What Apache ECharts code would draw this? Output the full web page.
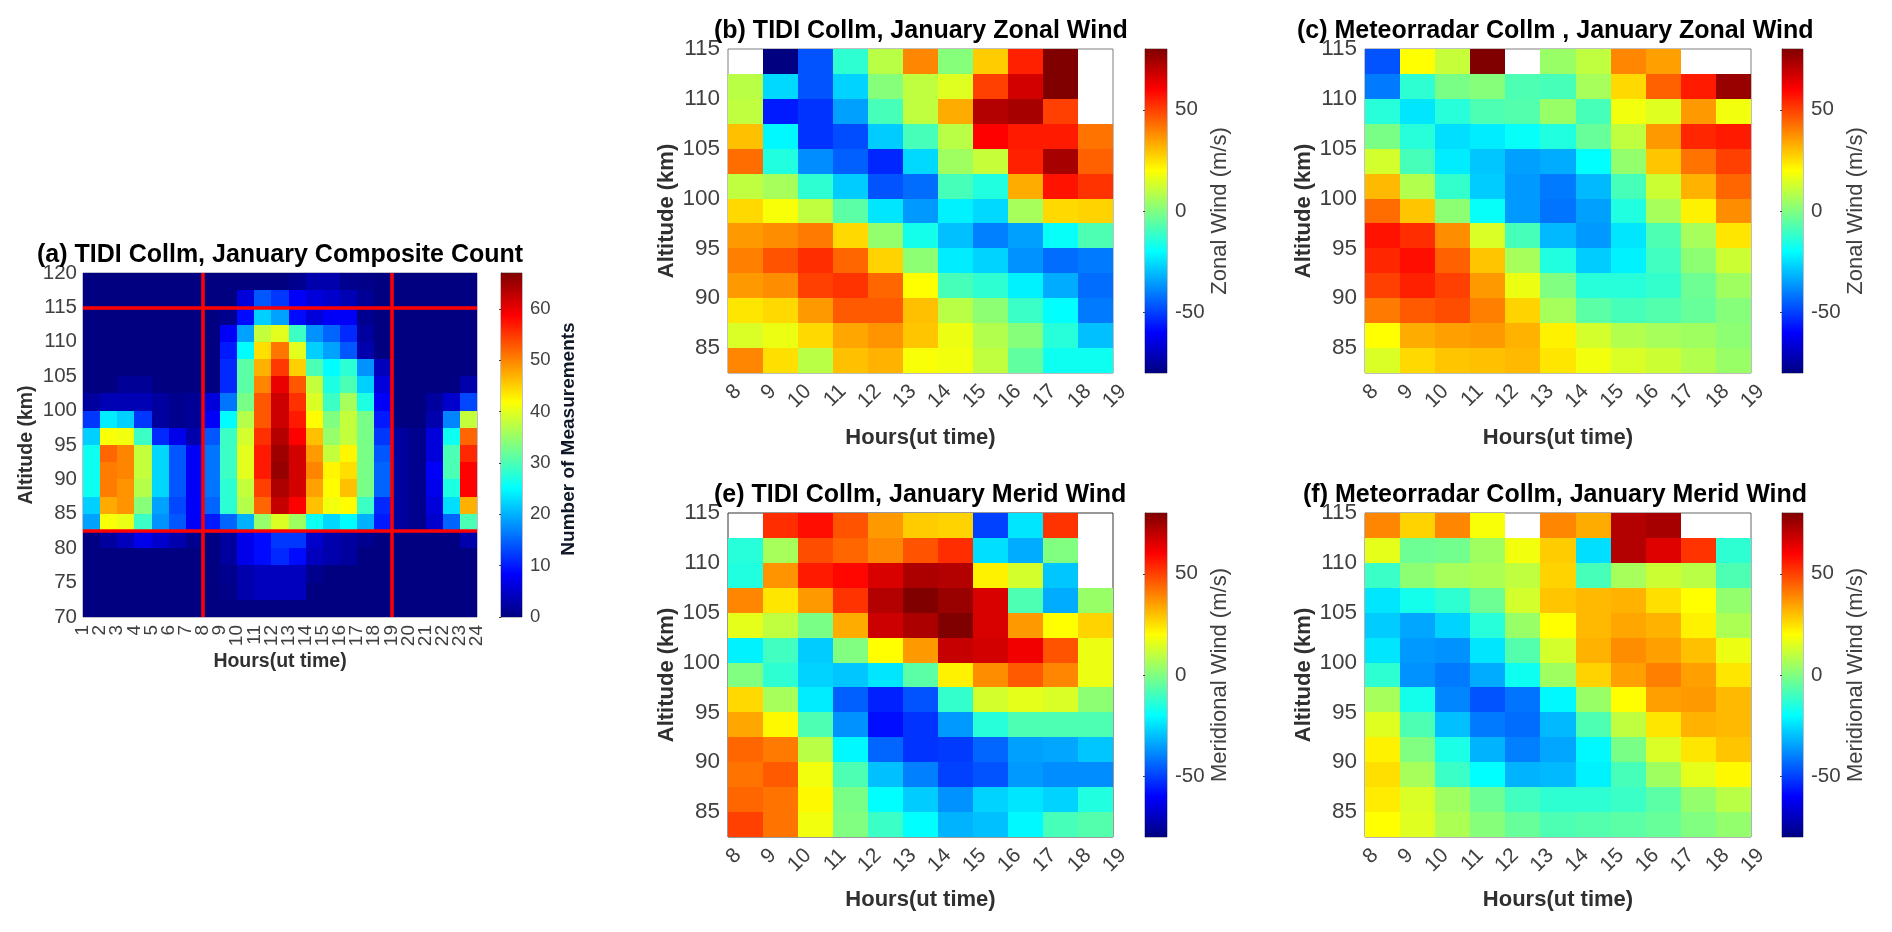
<!DOCTYPE html>
<html><head><meta charset="utf-8">
<style>html,body{margin:0;padding:0;background:#fff}#c{width:1892px;height:932px;filter:blur(0.45px)}</style>
<script src="https://cdn.jsdelivr.net/npm/echarts@6/dist/echarts.min.js"></script>
</head><body><div id="c"></div>
<script>
const countHours = [1,2,3,4,5,6,7,8,9,10,11,12,13,14,15,16,17,18,19,20,21,22,23,24];
const windHours = [8,9,10,11,12,13,14,15,16,17,18,19];
const countTicks = [70,75,80,85,90,95,100,105,110,115,120];
const windTicks = [85,90,95,100,105,110,115];
const windBarTicks = [-50,0,50];
const countBarTicks = [0,10,20,30,40,50,60];
const guideHours = [8,19];
const guideAltitudes = [115,82.5];
const jetColors = ['#000080','#0000ff','#0080ff','#00ffff','#80ff80','#ffff00','#ff8000','#ff0000','#800000'];

const countRows = [
[0,0,0,0,0,0,0,0,0,0,0,0,1,3,3,1,0.5,0,0,0,0,0,0],
[0,0,0,0,0,0,0,0,0,6,14,12,8,6,5,3.5,1.5,0,0,0,0,0,0],
[0,0,0,0,0,0,0,0,1,9,22,19,9,6,8,8,1,0,0,0,0,0,0],
[0,0,0,0,0,0,0,0,8,19,38,40,29,18,15,11,2,0,0,0,0,0,0],
[0,0,0,0,0,0,0,0,10,25,44,51,40,22,19,14,3,0,0,0,0,0,0],
[0,0,0,0,0,0,0,0,11,31,47,55,45,30,25,28,18,4,0,0,0,0,0],
[0,0,1.5,1.5,0,0,0,0,11,31,50,60,53,38,27,30,22,6,0,0,0,0,3],
[2,3.5,3.5,3.5,2,1,1.5,6,16,33,53,62,55.5,39.5,29,36,27,8,0,0,2,5,13],
[12,24,22,12,2,1,1.5,8,25,37,53,62,57,42,33.5,38,33,10,0,0,3,17,38],
[22,41.5,41,29,11,7,3,14,29,39,55.5,63.5,58.6,46,35,38,33,12,2,1,6,26,52],
[26,52,50,38,22.5,14,8,16,29,40,57,65,61.5,48.5,38,42.5,33,14,2,1,6,30,56],
[26,50.5,50,38,22.5,14,8,16,29,40,57,65.5,61.5,50,42.5,44,33,15,2,1,8,30,58.5],
[26,50.5,49,37,22.5,14,8,16,28,38,54.5,64,61.5,48,42,46,33,15,2,1,7,27,58.5],
[22,47.5,49,34,19,13,8,15,28,37,52,62.5,58.6,46,41,42,29,11,2,1,6,23,47],
[19,41.5,40.5,29,18,14,8,10,15,20,35,39.5,35.5,26,22.5,25,20,10,2,1,5,15,30],
[0,2,4,7,5,3,1,0,2,7,9,12,12,5,3,2,1,0,0,0,0,0,3],
[0,0,0,0,0,0,0,0,2,7,9,11,9,4,3,2,0,0,0,0,0,0,0],
[0,0,0,0,0,0,0,0,1,3,4,4,4,1,0,0,0,0,0,0,0,0,0],
[0,0,0,0,0,0,0,0,0.5,3,4,4,4,0,0,0,0,0,0,0,0,0,0],
[0,0,0,0,0,0,0,0,0,0,0,0,0,0,0,0,0,0,0,0,0,0,0]
];
const tidiZonal = [
[null,-80,-47,-13,9,39,1,28,55,80,null],
[9,-26,-47,-27,1,10,15,50,67,80,null],
[10,-56,-52,-35,-9,10,33,72,74,50,null],
[30,-21,-52,-48,-28,-9,9,60,56,56,42],
[43,-15,-38,-45,-54,-26,5,11,55,74,45],
[10,6,-13,-28,-47,-43,-9,-15,33,57,52],
[26,19,10,-6,-24,-36,-22,-26,6,26,27],
[36,38,41,26,3,-17,-30,-40,-35,-19,-8],
[40,47,53,44,27,2,-23,-27,-37,-43,-41],
[36,38,50,52,44,20,-9,-13,-22,-33,-43],
[24,26,36,46,46,30,9,2,-11,-20,-41],
[14,17,26,34,37,29,17,8,1,-14,-30],
[39,25,9,30,32,19,18,10,-5,-18,-18]
];
const radarZonal = [
[-47,20,11,80,null,4,10,39,35,null,null],
[-41,-13,-1,1,-8,-9,6,26,45,56,76],
[-14,-24,-14,-8,-7,4,-9,18,15,36,18],
[-1,-14,-25,-23,-19,-15,-4,10,36,54,56],
[13,-9,-23,-29,-35,-33,-20,3,29,42,50],
[31,8,-12,-28,-36,-41,-31,-9,12,32,44],
[43,29,2,-19,-36,-42,-35,-15,6,22,38],
[57,53,38,14,-9,-31,-36,-24,-8,6,24],
[54,58,45,29,6,-15,-28,-22,-10,2,12],
[50,55,50,36,17,0,-14,-14,-12,-3,5],
[41,46,48,40,27,6,-6,-9,-7,-4,1],
[20,33,35,36,32,22,13,8,6,5,2],
[14,26,29,30,31,24,18,14,12,8,4]
];
const tidiMerid = [
[null,53,58,47,36,28,27,-50,-24,52,null],
[-14,6,48,44,39,47,53,-25,-33,0,null],
[-15,37,56,59,66,73,72,22,13,-29,null],
[39,24,36,52,72,80,76,66,-8,-33,4],
[16,10,-1,33,68,73,80,66,36,20,27],
[-22,-10,-28,0,20,36,69,67,62,47,17],
[0,-13,-27,-29,-24,-6,22,38,46,39,17],
[26,6,-23,-45,-55,-47,-12,13,16,14,2],
[34,21,-8,-37,-58,-52,-36,-14,-8,-8,-8],
[44,41,9,-21,-44,-52,-51,-44,-35,-34,-29],
[42,46,18,-8,-30,-40,-50,-47,-36,-38,-38],
[44,42,21,-1,-20,-28,-37,-27,-24,-27,-15],
[50,42,18,0,-11,-20,-32,-30,-21,-9,-7]
];
const radarMerid = [
[39,27,39,19,null,39,33,72,74,null,null],
[16,-3,-2,5,18,28,-25,72,65,52,-13],
[-11,2,6,7,10,27,-9,6,12,9,-8],
[-24,-17,-13,-3,13,29,31,32,25,20,3],
[-28,-34,-27,-14,4,20,31,34,32,22,7],
[-24,-36,-37,-24,-7,13,32,38,35,30,17],
[-13,-37,-41,-33,-18,5,27,35,40,35,24],
[6,-17,-39,-47,-42,-21,4,20,35,36,31],
[15,-8,-30,-41,-43,-31,-8,10,24,32,31],
[22,0,-16,-32,-40,-34,-21,-1,14,24,29],
[25,6,-11,-20,-32,-31,-22,-9,5,16,21],
[23,14,5,-3,-10,-13,-13,-11,-6,3,9],
[20,15,7,1,-4,-8,-7,-6,-4,0,3]
];

const FONT = '"Liberation Sans", Arial, sans-serif';
const panels = [
 {title:'(a) TIDI Collm, January Composite Count', tx:37, ty:255, rows:countRows, hours:countHours, ticks:countTicks, ymin:70, ymax:120,
  box:[83,273,394,344], bar:[501,273,21,344], vmin:0, vmax:67, barTicks:countBarTicks, barName:'Number of Measurements', barBold:true, fs:19, nameGap:35, edge:'#7f7f9f'},
 {title:'(b) TIDI Collm, January Zonal Wind', tx:714, ty:31, rows:tidiZonal, hours:windHours, ticks:windTicks, ymin:82.5, ymax:115,
  box:[728,49,385,324], bar:[1145,49,22,324], vmin:-80, vmax:80, barTicks:windBarTicks, barName:'Zonal Wind (m/s)', fs:21, nameGap:54, edge:'#7f7f7f'},
 {title:'(c) Meteorradar Collm , January Zonal Wind', tx:1297, ty:31, rows:radarZonal, hours:windHours, ticks:windTicks, ymin:82.5, ymax:115,
  box:[1365,49,386,324], bar:[1782,49,21,324], vmin:-80, vmax:80, barTicks:windBarTicks, barName:'Zonal Wind (m/s)', fs:21, nameGap:54, edge:'#7f7f7f'},
 {title:'(e) TIDI Collm, January Merid Wind', tx:714, ty:495, rows:tidiMerid, hours:windHours, ticks:windTicks, ymin:82.5, ymax:115,
  box:[728,513,385,324], bar:[1145,513,22,324], vmin:-80, vmax:80, barTicks:windBarTicks, barName:'Meridional Wind (m/s)', fs:21, nameGap:52, edge:'#333333'},
 {title:'(f) Meteorradar Collm, January Merid Wind', tx:1303, ty:495, rows:radarMerid, hours:windHours, ticks:windTicks, ymin:82.5, ymax:115,
  box:[1365,513,386,324], bar:[1782,513,21,324], vmin:-80, vmax:80, barTicks:windBarTicks, barName:'Meridional Wind (m/s)', fs:21, nameGap:52, edge:'#666666'}
];

const title=[],grid=[],xAxis=[],yAxis=[],series=[],visualMap=[];
const TICK='#404040';
function cellRender(params,api){
  const x=api.value(0), y=api.value(1), w=api.value(3), h=api.value(4);
  const a=api.coord([x,y+h]), b=api.coord([x+w,y]);
  const l=Math.round(a[0]), t=Math.round(a[1]), r=Math.round(b[0]), btm=Math.round(b[1]);
  return {type:'rect',shape:{x:l,y:t,width:r-l,height:btm-t},style:{fill:api.visual('color')}};
}
panels.forEach((p,i)=>{
  const isA=p.barBold===true;
  title.push({text:p.title,left:p.tx,top:p.ty-13,padding:0,textStyle:{fontFamily:FONT,fontWeight:'bold',fontSize:25,color:'#000',lineHeight:26}});
  const gi=grid.length;
  grid.push({left:p.box[0],top:p.box[1],width:p.box[2],height:p.box[3],show:true,borderColor:p.edge,borderWidth:1,backgroundColor:'#fff',containLabel:false});
  xAxis.push({type:'value',gridIndex:gi,position:'bottom',min:p.hours[0],max:p.hours[p.hours.length-1],interval:1,
    name:'Hours(ut time)',nameLocation:'middle',nameGap:p.nameGap,
    nameTextStyle:{fontFamily:FONT,fontWeight:'bold',fontSize:isA?19.5:22,color:'#303030'},
    axisLine:{show:false},axisTick:{show:false},splitLine:{show:false},
    axisLabel:isA?{customValues:p.hours,rotate:90,fontFamily:FONT,fontSize:p.fs,color:TICK,margin:8,align:'right',verticalAlign:'middle',hideOverlap:false}
      :{customValues:p.hours,rotate:45,fontFamily:FONT,fontSize:p.fs,color:TICK,margin:25,align:'right',verticalAlign:'middle',padding:[0,-14,0,0],hideOverlap:false}});
  yAxis.push({type:'value',gridIndex:gi,min:p.ymin,max:p.ymax,
    name:'Altitude (km)',nameLocation:'middle',nameGap:isA?46:50,nameRotate:90,
    nameTextStyle:{fontFamily:FONT,fontWeight:'bold',fontSize:isA?19.5:22,color:'#303030'},
    axisLine:{show:false},axisTick:{show:false,customValues:p.ticks},splitLine:{show:false},
    axisLabel:{customValues:p.ticks,fontFamily:FONT,fontSize:isA?20.5:22.5,color:TICK,margin:isA?6:8,hideOverlap:false,padding:isA?0:[4,0,0,0]}});
  const data=[];
  const h=2.5;
  p.rows.forEach((row,r)=>row.forEach((v,c)=>{ if(v!==null) data.push([p.hours[c],p.ymax-h*(r+1),v,1,h]); }));
  const si=series.length;
  const s={type:'custom',xAxisIndex:gi,yAxisIndex:gi,coordinateSystem:'cartesian2d',renderItem:cellRender,data:data,encode:{x:0,y:1},silent:true,animation:false,clip:false};
  if(isA){
    s.markLine={silent:true,symbol:'none',animation:false,label:{show:false},lineStyle:{color:'#ff0000',width:3.5,type:'solid'},
      data:guideHours.map(x=>({xAxis:x})).concat(guideAltitudes.map(y=>({yAxis:y})))};
  }
  series.push(s);
  visualMap.push({show:false,type:'continuous',seriesIndex:si,dimension:2,min:p.vmin,max:p.vmax,inRange:{color:jetColors}});
  const bi=grid.length;
  grid.push({left:p.bar[0],top:p.bar[1],width:p.bar[2],height:p.bar[3],show:true,borderColor:'#808080',borderWidth:1,containLabel:false});
  xAxis.push({type:'value',gridIndex:bi,min:0,max:1,show:false});
  yAxis.push({type:'value',gridIndex:bi,position:'right',min:p.vmin,max:p.vmax,
    name:p.barName,nameLocation:'middle',nameRotate:90,nameGap:isA?56:53,
    nameTextStyle:{fontFamily:FONT,fontWeight:p.barBold?'bold':'normal',fontSize:isA?19:22,color:p.barBold?'#101828':TICK,align:'center',verticalAlign:'bottom',padding:isA?[0,0,0,12]:0},
    axisLine:{show:true,lineStyle:{color:'#404040',width:1}},
    axisTick:{show:true,inside:true,length:2,customValues:p.barTicks,lineStyle:{color:'#404040'}},splitLine:{show:false},
    axisLabel:{customValues:p.barTicks,fontFamily:FONT,fontSize:isA?18.5:20.5,color:TICK,margin:8,hideOverlap:false}});
  series.push({type:'custom',xAxisIndex:bi,yAxisIndex:bi,coordinateSystem:'cartesian2d',silent:true,animation:false,data:[[p.vmin,p.vmax]],
    renderItem:function(par,api){
      const a=api.coord([0,api.value(1)]), b=api.coord([1,api.value(0)]);
      return {type:'rect',shape:{x:a[0],y:a[1],width:b[0]-a[0],height:b[1]-a[1]},
        style:{fill:new echarts.graphic.LinearGradient(0,1,0,0,jetColors.map((c,k)=>({offset:k/(jetColors.length-1),color:c})))}};
    },encode:{x:-1,y:[0,1]}});
});
// end labels of panel (a): a companion axis carries hours 1 and 24, which the main axis drops because they touch their neighbours
xAxis.push({type:'value',gridIndex:0,position:'bottom',min:countHours[0],max:countHours[countHours.length-1],interval:1,
  axisLine:{show:false},axisTick:{show:false},splitLine:{show:false},
  axisLabel:{customValues:[countHours[0],countHours[countHours.length-1]],rotate:90,fontFamily:FONT,fontSize:19,color:TICK,margin:8,align:'right',verticalAlign:'middle',hideOverlap:false}});
const chart=echarts.init(document.getElementById('c'),null,{renderer:'canvas',width:1892,height:932});
chart.setOption({backgroundColor:'#fff',animation:false,title,grid,xAxis,yAxis,series,visualMap});
</script></body></html>
